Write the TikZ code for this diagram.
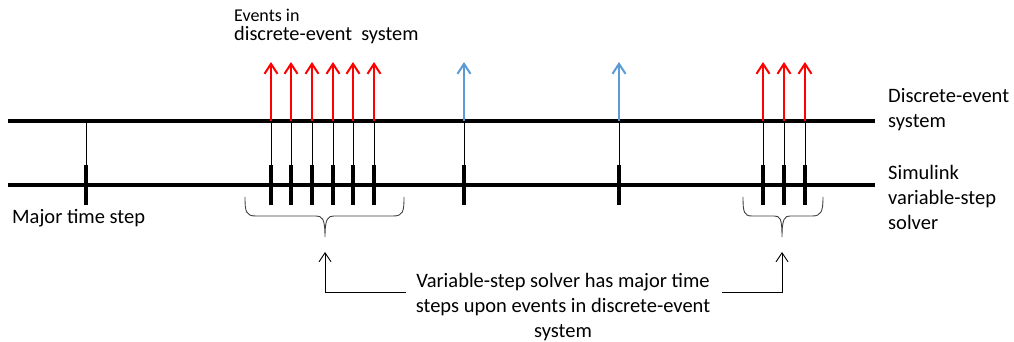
\documentclass[tikz,border=0pt]{standalone}
\usepackage{fontspec}
\setmainfont{Carlito}
\usetikzlibrary{arrows.meta}
\definecolor{evred}{HTML}{FF0000}
\definecolor{evblue}{HTML}{5B9BD5}

\begin{document}
\begin{tikzpicture}[x=1pt, y=-1pt,
  >={Straight Barb[length=10pt,width=13pt]},
  axis/.style={line width=4pt},
  link/.style={line width=1pt},
  tick/.style={line width=4pt},
  event/.style={->, line width=2pt},
  brace/.style={line width=0.9pt, black!75},
  note/.style={->, line width=0.9pt, >={Straight Barb[length=9pt,width=12pt]}},
  label/.style={font=\fontsize{20.5}{25}\selectfont, inner sep=0pt}]

  \useasboundingbox (0,0) rectangle (1014,342);

  % ---- the two time axes ----
  \coordinate (des-w) at (8,121);  \coordinate (des-e) at (875,121);
  \coordinate (sol-w) at (8,185);  \coordinate (sol-e) at (875,185);
  \draw[axis] (des-w) -- (des-e);
  \draw[axis] (sol-w) -- (sol-e);

  % ---- major time steps, linked up to the event axis ----
  \foreach \x [count=\i] in {86,271,291,312,333,353,374,464,619,763,784,805} {
    \coordinate (d\i) at (\x,121);
    \coordinate (s\i) at (\x,165);
    \draw[link] (d\i) -- (s\i);
    \draw[tick] (s\i) -- ++(0,40);
  }

  % ---- events in the discrete-event system ----
  \foreach \i/\c in {2/evred,3/evred,4/evred,5/evred,6/evred,7/evred,
                     8/evblue,9/evblue,10/evred,11/evred,12/evred}
    \draw[event, \c] (d\i) -- ++(0,-59);

  % ---- labels ----
  \node[anchor=west, inner sep=0pt, font=\fontsize{18}{21}\selectfont] (evtop) at (234,15) {Events in};
  \node[anchor=west, inner sep=0pt, font=\fontsize{20.3}{23}\selectfont] (evbot) at (234,35) {discrete-event\ \ system};
  \node[label, anchor=west, align=left] (deslabel) at (888,110) {Discrete-event\\system};
  \node[label, anchor=west, align=left] (sollabel) at (888,197) {Simulink\\variable-step\\solver};
  \node[label, anchor=west] (major) at (12,218) {Major time step};

  % ---- braces under the event clusters ----
  \coordinate (lbr) at (325,237);
  \coordinate (rbr) at (782,237);
  \draw[brace] (245,197) .. controls (245,212) and (246,216) .. (256,216) -- (316,216)
    .. controls (322,216) and (325,218) .. (lbr)
    .. controls (325,218) and (328,216) .. (334,216) -- (393,216)
    .. controls (403,216) and (404,212) .. (404,197);
  \draw[brace] (743,197) .. controls (743,212) and (744,216) .. (752,216) -- (774,216)
    .. controls (780,216) and (782,218) .. (rbr)
    .. controls (782,218) and (785,216) .. (790,216) -- (812,216)
    .. controls (821,216) and (823,212) .. (823,197);

  % ---- explanation ----
  \node[label, align=center] (expl) at (563,307)
    {Variable-step solver has major time\\steps upon events in discrete-event\\system};
  \coordinate (la) at (406,292);
  \coordinate (ra) at (722,292);
  \draw[note] (la) -| ([yshift=-15pt]lbr);
  \draw[note] (ra) -| ([yshift=-15pt]rbr);

\end{tikzpicture}
\end{document}
